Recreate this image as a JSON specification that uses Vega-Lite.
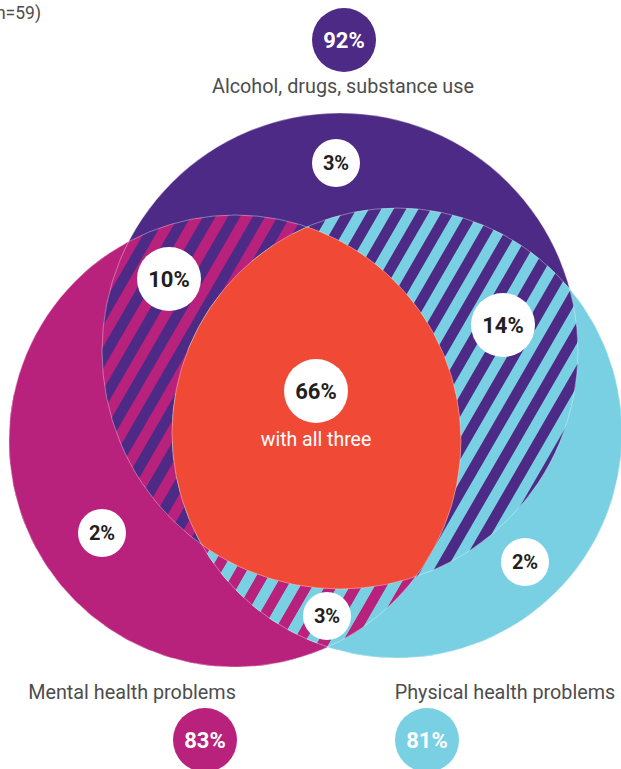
{
  "$schema": "https://vega.github.io/schema/vega-lite/v6.json",
  "width": 621,
  "height": 769,
  "padding": 0,
  "autosize": {"type": "none"},
  "config": {"view": {"stroke": null}, "font": "Roboto"},
  "datasets": {
    "sets": [
      {"set": "Mental health problems", "pct": "83%", "cx": 235, "cy": 441, "r": 226, "bx": 205, "by": 740, "tx": 132, "ty": 699},
      {"set": "Physical health problems", "pct": "81%", "cx": 397, "cy": 433, "r": 225, "bx": 427, "by": 740, "tx": 505, "ty": 699},
      {"set": "Alcohol, drugs, substance use", "pct": "92%", "cx": 340, "cy": 351, "r": 238, "bx": 344, "by": 40, "tx": 343, "ty": 93}
    ],
    "regions": [
      {"region": "Alcohol only", "label": "3%", "x": 336, "y": 163},
      {"region": "Alcohol + mental", "label": "10%", "x": 169, "y": 279},
      {"region": "Alcohol + physical", "label": "14%", "x": 503, "y": 325},
      {"region": "All three", "label": "66%", "x": 316, "y": 391, "sub": "with all three"},
      {"region": "Mental only", "label": "2%", "x": 102, "y": 533},
      {"region": "Physical only", "label": "2%", "x": 525, "y": 562},
      {"region": "Mental + physical", "label": "3%", "x": 327, "y": 616}
    ],
    "notes": [
      {"text": "(n=59)", "x": 41, "y": 19}
    ]
  },
  "layer": [
    {
      "data": {"name": "sets"},
      "mark": {"type": "point", "shape": "circle", "filled": true, "opacity": 1, "strokeWidth": 0},
      "encoding": {
        "x": {"field": "cx", "type": "quantitative", "scale": {"domain": [0, 621], "nice": false, "zero": false}, "axis": null},
        "y": {"field": "cy", "type": "quantitative", "scale": {"domain": [0, 769], "nice": false, "zero": false, "reverse": true}, "axis": null},
        "size": {"field": "r", "type": "quantitative", "scale": {"type": "pow", "exponent": 2, "domain": [0, 100], "range": [0, 40000]}, "legend": null},
        "color": {"field": "set", "type": "nominal", "scale": {"domain": ["Alcohol, drugs, substance use", "Mental health problems", "Physical health problems"], "range": ["#4c2a85", "#b8227c", "#79d0e3"]}, "legend": null}
      }
    },
    {
      "data": {"name": "sets"},
      "transform": [{"filter": "datum.set === 'Mental health problems'"}],
      "mark": {"type": "point", "filled": true, "opacity": 1, "strokeWidth": 0, "color": "#b8227c", "size": 4, "angle": 30,
        "shape": "M-215 -69.65L-215 69.65A226 226 0 0 0 -204.25 96.74L-204.25 -96.74A226 226 0 0 0 -215 -69.65Z M-193.5 -116.76L-193.5 116.76A226 226 0 0 0 -182.75 132.96L-182.75 -132.96A226 226 0 0 0 -193.5 -116.76Z M-172 -146.6L-172 146.6A226 226 0 0 0 -161.25 158.35L-161.25 -158.35A226 226 0 0 0 -172 -146.6Z M-150.5 -168.6L-150.5 168.6A226 226 0 0 0 -139.75 177.61L-139.75 -177.61A226 226 0 0 0 -150.5 -168.6Z M-129 -185.57L-129 185.57A226 226 0 0 0 -118.25 192.6L-118.25 -192.6A226 226 0 0 0 -129 -185.57Z M-107.5 -198.8L-107.5 198.8A226 226 0 0 0 -96.75 204.24L-96.75 -204.24A226 226 0 0 0 -107.5 -198.8Z M-86 -209L-86 209A226 226 0 0 0 -75.25 213.1L-75.25 -213.1A226 226 0 0 0 -86 -209Z M-64.5 -216.6L-64.5 216.6A226 226 0 0 0 -53.75 219.52L-53.75 -219.52A226 226 0 0 0 -64.5 -216.6Z M-43 -221.87L-43 221.87A226 226 0 0 0 -32.25 223.69L-32.25 -223.69A226 226 0 0 0 -43 -221.87Z M-21.5 -224.97L-21.5 224.97A226 226 0 0 0 -10.75 225.74L-10.75 -225.74A226 226 0 0 0 -21.5 -224.97Z M0 -226L0 226A226 226 0 0 0 10.75 225.74L10.75 -225.74A226 226 0 0 0 0 -226Z M21.5 -224.97L21.5 224.97A226 226 0 0 0 32.25 223.69L32.25 -223.69A226 226 0 0 0 21.5 -224.97Z M43 -221.87L43 221.87A226 226 0 0 0 53.75 219.52L53.75 -219.52A226 226 0 0 0 43 -221.87Z M64.5 -216.6L64.5 216.6A226 226 0 0 0 75.25 213.1L75.25 -213.1A226 226 0 0 0 64.5 -216.6Z M86 -209L86 209A226 226 0 0 0 96.75 204.24L96.75 -204.24A226 226 0 0 0 86 -209Z M107.5 -198.8L107.5 198.8A226 226 0 0 0 118.25 192.6L118.25 -192.6A226 226 0 0 0 107.5 -198.8Z M129 -185.57L129 185.57A226 226 0 0 0 139.75 177.61L139.75 -177.61A226 226 0 0 0 129 -185.57Z M150.5 -168.6L150.5 168.6A226 226 0 0 0 161.25 158.35L161.25 -158.35A226 226 0 0 0 150.5 -168.6Z M172 -146.6L172 146.6A226 226 0 0 0 182.75 132.96L182.75 -132.96A226 226 0 0 0 172 -146.6Z M193.5 -116.76L193.5 116.76A226 226 0 0 0 204.25 96.74L204.25 -96.74A226 226 0 0 0 193.5 -116.76Z M215 -69.65L215 69.65A226 226 0 0 0 225.75 10.63L225.75 -10.63A226 226 0 0 0 215 -69.65Z"},
      "encoding": {
        "x": {"field": "cx", "type": "quantitative"},
        "y": {"field": "cy", "type": "quantitative"}
      }
    },
    {
      "data": {"name": "sets"},
      "transform": [{"filter": "datum.set === 'Physical health problems'"}],
      "mark": {"type": "point", "filled": true, "opacity": 1, "strokeWidth": 0, "color": "#79d0e3", "size": 4, "angle": 30,
        "shape": "M-225 0A225 225 0 0 0 -222.3 34.75L-222.3 -34.75A225 225 0 0 0 -225 0Z M-211.55 -76.63L-211.55 76.63A225 225 0 0 0 -200.8 101.51L-200.8 -101.51A225 225 0 0 0 -211.55 -76.63Z M-190.05 -120.44L-190.05 120.44A225 225 0 0 0 -179.3 135.93L-179.3 -135.93A225 225 0 0 0 -190.05 -120.44Z M-168.55 -149.05L-168.55 149.05A225 225 0 0 0 -157.8 160.39L-157.8 -160.39A225 225 0 0 0 -168.55 -149.05Z M-147.05 -170.3L-147.05 170.3A225 225 0 0 0 -136.3 179.02L-136.3 -179.02A225 225 0 0 0 -147.05 -170.3Z M-125.55 -186.71L-125.55 186.71A225 225 0 0 0 -114.8 193.51L-114.8 -193.51A225 225 0 0 0 -125.55 -186.71Z M-104.05 -199.5L-104.05 199.5A225 225 0 0 0 -93.3 204.74L-93.3 -204.74A225 225 0 0 0 -104.05 -199.5Z M-82.55 -209.31L-82.55 209.31A225 225 0 0 0 -71.8 213.24L-71.8 -213.24A225 225 0 0 0 -82.55 -209.31Z M-61.05 -216.56L-61.05 216.56A225 225 0 0 0 -50.3 219.31L-50.3 -219.31A225 225 0 0 0 -61.05 -216.56Z M-39.55 -221.5L-39.55 221.5A225 225 0 0 0 -28.8 223.15L-28.8 -223.15A225 225 0 0 0 -39.55 -221.5Z M-18.05 -224.27L-18.05 224.27A225 225 0 0 0 -7.3 224.88L-7.3 -224.88A225 225 0 0 0 -18.05 -224.27Z M3.45 -224.97L3.45 224.97A225 225 0 0 0 14.2 224.55L14.2 -224.55A225 225 0 0 0 3.45 -224.97Z M24.95 -223.61L24.95 223.61A225 225 0 0 0 35.7 222.15L35.7 -222.15A225 225 0 0 0 24.95 -223.61Z M46.45 -220.15L46.45 220.15A225 225 0 0 0 57.2 217.61L57.2 -217.61A225 225 0 0 0 46.45 -220.15Z M67.95 -214.49L67.95 214.49A225 225 0 0 0 78.7 210.79L78.7 -210.79A225 225 0 0 0 67.95 -214.49Z M89.45 -206.45L89.45 206.45A225 225 0 0 0 100.2 201.46L100.2 -201.46A225 225 0 0 0 89.45 -206.45Z M110.95 -195.74L110.95 195.74A225 225 0 0 0 121.7 189.25L121.7 -189.25A225 225 0 0 0 110.95 -195.74Z M132.45 -181.88L132.45 181.88A225 225 0 0 0 143.2 173.55L143.2 -173.55A225 225 0 0 0 132.45 -181.88Z M153.95 -164.09L153.95 164.09A225 225 0 0 0 164.7 153.29L164.7 -153.29A225 225 0 0 0 153.95 -164.09Z M175.45 -140.86L175.45 140.86A225 225 0 0 0 186.2 126.31L186.2 -126.31A225 225 0 0 0 175.45 -140.86Z M196.95 -108.79L196.95 108.79A225 225 0 0 0 207.7 86.52L207.7 -86.52A225 225 0 0 0 196.95 -108.79Z M218.45 -53.89L218.45 53.89A225 225 0 0 0 225 0A225 225 0 0 0 218.45 -53.89Z"},
      "encoding": {
        "x": {"field": "cx", "type": "quantitative"},
        "y": {"field": "cy", "type": "quantitative"}
      }
    },
    {
      "data": {"name": "regions"},
      "transform": [{"filter": "datum.region === 'All three'"}],
      "mark": {"type": "point", "filled": true, "opacity": 1, "strokeWidth": 0, "color": "#f04a36", "size": 4,
        "shape": "M-9 -164A225 225 0 0 0 -114.3 153.7A238 238 0 0 0 99.8 185.6A226 226 0 0 0 -9 -164Z"},
      "encoding": {
        "x": {"field": "x", "type": "quantitative"},
        "y": {"field": "y", "type": "quantitative"}
      }
    },
    {
      "data": {"name": "sets"},
      "mark": {"type": "point", "shape": "circle", "filled": false, "opacity": 1, "stroke": "#ffffff", "strokeWidth": 0.8, "strokeOpacity": 0.45},
      "encoding": {
        "x": {"field": "cx", "type": "quantitative"},
        "y": {"field": "cy", "type": "quantitative"},
        "size": {"field": "r", "type": "quantitative"}
      }
    },
    {
      "data": {"name": "regions"},
      "mark": {"type": "point", "shape": "circle", "filled": true, "opacity": 1, "strokeWidth": 0, "color": "#ffffff"},
      "encoding": {
        "x": {"field": "x", "type": "quantitative"},
        "y": {"field": "y", "type": "quantitative"},
        "size": {"condition": {"test": "length(datum.label) > 2", "value": 4096}, "value": 2304}
      }
    },
    {
      "data": {"name": "regions"},
      "mark": {"type": "text", "fontWeight": "bold", "color": "#231f20", "baseline": "middle", "align": "center", "dy": 1},
      "encoding": {
        "x": {"field": "x", "type": "quantitative"},
        "y": {"field": "y", "type": "quantitative"},
        "text": {"field": "label"},
        "size": {"condition": {"test": "length(datum.label) > 2", "value": 22}, "value": 20}
      }
    },
    {
      "data": {"name": "regions"},
      "transform": [{"filter": "isValid(datum.sub)"}],
      "mark": {"type": "text", "color": "#ffffff", "fontSize": 19.5, "baseline": "alphabetic", "align": "center", "dy": 55},
      "encoding": {
        "x": {"field": "x", "type": "quantitative"},
        "y": {"field": "y", "type": "quantitative"},
        "text": {"field": "sub"}
      }
    },
    {
      "data": {"name": "sets"},
      "mark": {"type": "point", "shape": "circle", "filled": true, "opacity": 1, "strokeWidth": 0, "size": 4096},
      "encoding": {
        "x": {"field": "bx", "type": "quantitative"},
        "y": {"field": "by", "type": "quantitative"},
        "color": {"field": "set", "type": "nominal", "legend": null}
      }
    },
    {
      "data": {"name": "sets"},
      "mark": {"type": "text", "fontWeight": "bold", "color": "#ffffff", "fontSize": 22, "baseline": "middle", "align": "center", "dy": 1},
      "encoding": {
        "x": {"field": "bx", "type": "quantitative"},
        "y": {"field": "by", "type": "quantitative"},
        "text": {"field": "pct"}
      }
    },
    {
      "data": {"name": "sets"},
      "mark": {"type": "text", "color": "#4d4d4d", "fontSize": 19.8, "baseline": "alphabetic", "align": "center"},
      "encoding": {
        "x": {"field": "tx", "type": "quantitative"},
        "y": {"field": "ty", "type": "quantitative"},
        "text": {"field": "set"}
      }
    },
    {
      "data": {"name": "notes"},
      "mark": {"type": "text", "color": "#4d4d4d", "fontSize": 17.5, "baseline": "alphabetic", "align": "right"},
      "encoding": {
        "x": {"field": "x", "type": "quantitative"},
        "y": {"field": "y", "type": "quantitative"},
        "text": {"field": "text"}
      }
    }
  ]
}
